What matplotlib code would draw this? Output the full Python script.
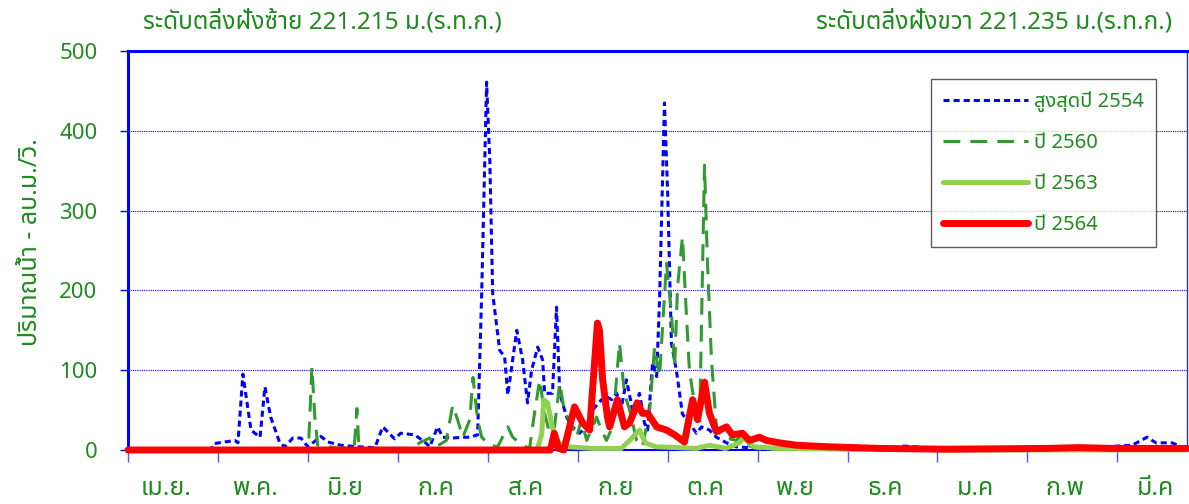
import matplotlib
matplotlib.use("Agg")
import matplotlib.pyplot as plt
from matplotlib import font_manager
from matplotlib.ft2font import FT2Font

# ---------------- data ----------------
months = ['เม.ย.', 'พ.ค.', 'มิ.ย', 'ก.ค', 'ส.ค', 'ก.ย', 'ต.ค', 'พ.ย', 'ธ.ค', 'ม.ค', 'ก.พ', 'มี.ค']
month_start = [0, 31, 62, 93, 124, 155, 186, 217, 248, 279, 310, 341]
yticks = [0, 100, 200, 300, 400, 500]

series_names = ['สูงสุดปี 2554', 'ปี 2560', 'ปี 2563', 'ปี 2564']

b_day = [0, 28.5, 29.6, 36.8, 37.9, 39.6, 42.4, 45.5, 47.2, 49.2, 52.3, 54.1, 56.8, 59.6, 62.0, 66.5,
         68.9, 73.3, 79.2, 85.1, 87.8, 91.9, 94.0, 98.8, 102.3, 104.0, 106.7, 108.5, 111.9, 115.4,
         117.8, 120.5, 121.9, 123.6, 124.7, 125.7, 128.1, 129.8, 130.9, 134.0, 136.0, 137.7, 139.1,
         141.2, 142.9, 143.6, 146.3, 147.7, 148.8, 151.2, 153.2, 155.6, 158.1, 160.1, 163.2, 164.9,
         166.7, 168.4, 170.1, 171.8, 173.9, 176.3, 178.0, 179.1, 180.8, 182.2, 183.2, 184.9, 186.0,
         187.3, 189.0, 191.1, 193.5, 195.9, 197.7, 200.4, 202.8, 206.3, 209.7, 217.6, 231.4, 264,
         266.9, 271.7, 276.2, 334.7, 337.1, 346.1, 351.2, 354.3, 359.8, 363.3, 365]
b_val = [0, 0, 8, 12, 9, 95, 25, 16, 79, 41, 9, 4, 15, 15, 4, 17,
         10, 6, 4, 3, 29, 14, 21, 19, 10, 4, 29, 16, 15, 16,
         16, 19, 196, 461, 363, 196, 125, 117, 69, 150, 113, 59, 100,
         129, 113, 71, 71, 179, 71, 41, 29, 21, 29, 50, 63, 67,
         63, 71, 54, 88, 50, 71, 34, 25, 109, 92, 188, 435, 322,
         134, 100, 45, 34, 21, 29, 25, 16, 9, 4, 2, 1, 1,
         5, 4, 1, 2, 4, 6, 16, 9, 9, 4, 3]

g_day = [0, 60.3, 61.6, 62.3, 63.4, 64.4, 65.4, 69, 73, 78, 78.9, 79.5, 81, 98, 100.5, 103.9, 106.2,
         109.7, 111.9, 113.6, 115.4, 117.8, 118.9, 120.5, 121.9, 124.7, 127.4, 130.9, 132.6, 136,
         138.4, 140.1, 141.9, 143.6, 145.3, 147, 148.8, 150.5, 152.2, 154.6, 156.3, 158.1, 161.5,
         163.2, 164.9, 167, 169.4, 171.1, 172.9, 175.3, 177.3, 179.8, 181.5, 183.2, 185.6, 187.3,
         188.4, 189.4, 191.1, 192.5, 193.5, 195.2, 197, 198.7, 199.7, 201.1, 202.8, 204.9, 209.7,
         211.8, 214.2, 217.6, 365]
g_val = [0, 0, 6, 12, 104, 41, 6, 4, 2, 4, 52, 9, 2, 2, 9, 15, 4,
         12, 56, 38, 16, 38, 91, 38, 16, 6, 4, 29, 16, 6,
         2, 46, 88, 46, 21, 29, 84, 46, 38, 16, 38, 12, 41,
         25, 12, 29, 134, 71, 50, 12, 4, 50, 129, 92, 234, 172,
         104, 204, 267, 167, 100, 59, 29, 357, 238, 113, 29, 16, 12,
         21, 5, 1, 0]

lg_day = [0, 141, 142.6, 143.3, 144.6, 146.5, 148.4, 151.5, 160, 170, 172.9, 176.3, 178.3, 182,
          196, 200.4, 206, 210.7, 212.1, 215.8, 224, 250, 275, 280, 365]
lg_val = [0, 0, 20, 63, 59, 25, 9, 4, 2, 2, 12, 25, 9, 4,
          2, 6, 2, 9, 15, 4, 2, 1, 1, 0, 0]

r_day = [0, 145.6, 146.9, 148.4, 150.2, 153.9, 156.7, 159.1, 161.8, 162.5, 163.6, 165.3, 166,
         168.7, 171.1, 172.9, 175.6, 177.3, 179.1, 182.2, 185.6, 188.4, 191.8, 194.6, 196.3, 198.7,
         200.4, 202.8, 206.3, 208.3, 211.8, 214.2, 217.6, 220, 224.5, 230.4, 241.7, 259, 282,
         316.5, 327.8, 339.2, 365]
r_val = [0, 0, 21, 2, 0, 54, 34, 25, 159, 150, 88, 40, 29,
         63, 29, 34, 59, 46, 46, 29, 25, 19, 10, 63, 38, 85,
         46, 23, 29, 19, 21, 12, 16, 12, 9, 6, 4, 2, 1,
         2, 3, 2, 2]

left_title = 'ระดับตลิ่งฝั่งซ้าย 221.215 ม.(ร.ท.ก.)'
right_title = 'ระดับตลิ่งฝั่งขวา 221.235 ม.(ร.ท.ก.)'
ylabel = 'ปริมาณน้ำ - ลบ.ม./วิ.'


# ---------------- font ----------------
def find_thai_font():
    pref = ['Tahoma', 'Noto Sans Thai', 'Noto Sans Thai UI', 'Loma', 'Garuda', 'Sarabun',
            'Waree', 'Umpush', 'Kinnari', 'Norasi', 'Laksaman', 'Noto Serif Thai',
            'FreeSans', 'FreeSerif']
    found = {}
    for f in font_manager.fontManager.ttflist:
        try:
            cm = FT2Font(f.fname).get_charmap()
        except Exception:
            continue
        if 0x0E01 in cm and 0x0E49 in cm:
            found.setdefault(f.name, f.fname)
    for p in pref:
        if p in found:
            return p
    return next(iter(found), None)


thai = find_thai_font()
fams = ([thai] if thai else []) + ['DejaVu Sans']
plt.rcParams['font.family'] = fams

TXT = '#1F8B1F'
BLUE = '#0000FF'

fig = plt.figure(figsize=(11.89, 5.04), dpi=100)
ax = fig.add_axes([128 / 1189, 1 - 450 / 504, (1187 - 128) / 1189, (450 - 51) / 504])

ax.plot(b_day, b_val, color=BLUE, lw=2.2, dashes=(2, 1.3), label=series_names[0], clip_on=False, zorder=3)
ax.plot(g_day, g_val, color='#339933', lw=2.2, dashes=(5.5, 3.3), label=series_names[1], clip_on=False, zorder=4)
ax.plot(lg_day, lg_val, color='#92D050', lw=3.6, label=series_names[2], clip_on=False, zorder=5,
        solid_capstyle='round', solid_joinstyle='round')
ax.plot(r_day, r_val, color='#FF0000', lw=5, label=series_names[3], clip_on=False, zorder=6,
        solid_capstyle='round', solid_joinstyle='round')

ax.set_xlim(0, 365)
ax.set_ylim(0, 500)
ax.set_yticks(yticks)
ax.set_yticklabels([str(v) for v in yticks], color=TXT, fontsize=16)
ax.tick_params(axis='y', direction='out', length=6, width=1, color=BLUE, pad=16)

ax.set_xticks(month_start)
ax.set_xticklabels([''] * len(month_start))
ax.set_xticks([m + 13 for m in month_start], minor=True)
ax.set_xticklabels(months, minor=True, color=TXT, fontsize=18)
ax.tick_params(axis='x', which='major', direction='out', length=8.6, width=1, color='#5555FF')
ax.tick_params(axis='x', which='minor', length=0, pad=19)

for yv in yticks[1:-1]:
    ax.axhline(yv, color=BLUE, lw=0.8, ls=(0, (1, 1)), zorder=1)

ax.spines['left'].set_color(BLUE)
ax.spines['left'].set_linewidth(2.2)
ax.spines['top'].set_color(BLUE)
ax.spines['top'].set_linewidth(2.2)
ax.spines['bottom'].set_color(BLUE)
ax.spines['bottom'].set_linewidth(1.5)
ax.spines['right'].set_color('#3333AA')
ax.spines['right'].set_linewidth(1)

ax.set_ylabel(ylabel, color=TXT, fontsize=18)
ax.yaxis.set_label_coords(-0.080, 0.52)

fig.text(143 / 1189, 1 - 22 / 504, left_title, color=TXT, fontsize=17.5, ha='left', va='center')
fig.text(1172 / 1189, 1 - 22 / 504, right_title, color=TXT, fontsize=17.5, ha='right', va='center')

leg = ax.legend(loc='upper left', bbox_to_anchor=((931 - 128) / 1059, (450 - 79) / 399),
                frameon=True, fancybox=False, edgecolor='#333333', fontsize=14.5,
                handlelength=4.2, handletextpad=0.3, labelspacing=1.05, borderpad=0.6,
                borderaxespad=0)
leg.get_frame().set_linewidth(1)
for t in leg.get_texts():
    t.set_color(TXT)

fig.savefig('out.png', dpi=100)
